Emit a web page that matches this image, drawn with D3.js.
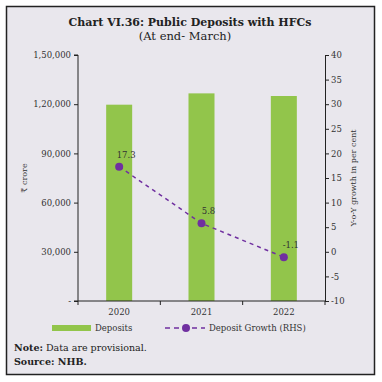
<!DOCTYPE html>
<html><head><meta charset="utf-8">
<script src="https://cdn.jsdelivr.net/npm/d3@7"></script>
<style>body{margin:0;background:#fff}svg{display:block}</style>
</head><body>
<script>
const categories = ["2020", "2021", "2022"];
const deposits = [119700, 126600, 125000];
const growth = [17.3, 5.8, -1.1];
const leftTicks = [0, 30000, 60000, 90000, 120000, 150000];
const leftTickLabels = ["-", "30,000", "60,000", "90,000", "1,20,000", "1,50,000"];
const rightTicks = [-10, -5, 0, 5, 10, 15, 20, 25, 30, 35, 40];

const W = 382, H = 382;
const font = "'DejaVu Serif', serif";
const svg = d3.select("body").append("svg").attr("width", W).attr("height", H);

svg.append("rect").attr("x", 6.5).attr("y", 6.5).attr("width", 368).attr("height", 368)
  .attr("fill", "#e9e7ed").attr("stroke", "#222").attr("stroke-width", 1.5);

svg.append("text").attr("x", 190).attr("y", 26).attr("text-anchor", "middle")
  .attr("font-family", font).attr("font-weight", "bold").attr("font-size", 11).attr("fill", "#222")
  .text("Chart VI.36: Public Deposits with HFCs");
svg.append("text").attr("x", 185).attr("y", 40).attr("text-anchor", "middle")
  .attr("font-family", font).attr("font-size", 11.5).attr("fill", "#222")
  .text("(At end- March)");

const x0 = 78, x1 = 325, yTop = 55, yBot = 301;
const x = d3.scaleBand().domain(categories).range([x0, x1]);
const yL = d3.scaleLinear().domain([0, 150000]).range([yBot, yTop]);
const yR = d3.scaleLinear().domain([-10, 40]).range([yBot, yTop]);

const bw = 26;
svg.selectAll("rect.bar").data(deposits).enter().append("rect").attr("class", "bar")
  .attr("x", (d, i) => x(categories[i]) + x.bandwidth() / 2 - bw / 2)
  .attr("y", d => yL(d)).attr("width", bw).attr("height", d => yBot - yL(d))
  .attr("fill", "#92c54b");

// left axis
const gl = svg.append("g").attr("transform", `translate(${x0},0)`)
  .call(d3.axisLeft(yL).tickValues(leftTicks).tickFormat((d, i) => leftTickLabels[i]).tickSize(4).tickPadding(3));
gl.select(".domain").attr("d", `M-4,${yTop}H0V${yBot}H-4`);
// right axis
const gr = svg.append("g").attr("transform", `translate(${x1},0)`)
  .call(d3.axisRight(yR).tickValues(rightTicks).tickFormat(d => d).tickSize(4).tickPadding(2));
// bottom axis
const gb = svg.append("g").attr("transform", `translate(0,${yBot})`)
  .call(d3.axisBottom(x).tickSize(0).tickPadding(8));
gb.select(".domain").attr("d", `M${x0},0H${x1}`);
[x0, x0 + x.step(), x0 + 2 * x.step(), x1].forEach(t =>
  gb.append("line").attr("x1", t).attr("x2", t).attr("y1", 0).attr("y2", 4).attr("stroke", "#222"));

[gl, gr, gb].forEach(g => {
  g.selectAll("text").attr("font-family", font).attr("font-size", 8.5).attr("fill", "#333");
  g.selectAll("line, path").attr("stroke", "#222").attr("stroke-width", 1);
});

// axis titles
svg.append("text").attr("transform", "translate(27,178) rotate(-90)").attr("text-anchor", "middle")
  .attr("font-family", font).attr("font-size", 8).attr("fill", "#333").text("₹ crore");
svg.append("text").attr("transform", "translate(356,178) rotate(-90)").attr("text-anchor", "middle")
  .attr("font-family", font).attr("font-size", 8).attr("fill", "#333").text("Y-o-Y growth in per cent");

// line
const line = d3.line().x((d, i) => x(categories[i]) + x.bandwidth() / 2).y(d => yR(d));
svg.append("path").datum(growth).attr("d", line).attr("fill", "none")
  .attr("stroke", "#7030a0").attr("stroke-width", 1.5).attr("stroke-dasharray", "4,4");
svg.selectAll("circle.pt").data(growth).enter().append("circle").attr("class", "pt")
  .attr("cx", (d, i) => x(categories[i]) + x.bandwidth() / 2).attr("cy", d => yR(d)).attr("r", 4)
  .attr("fill", "#7030a0");
svg.selectAll("text.lbl").data(growth).enter().append("text").attr("class", "lbl")
  .attr("x", (d, i) => x(categories[i]) + x.bandwidth() / 2 + 7).attr("y", d => yR(d) - 9)
  .attr("text-anchor", "middle").attr("font-family", font).attr("font-size", 8.5).attr("fill", "#333")
  .text(d => d.toFixed(1));

// legend
svg.append("rect").attr("x", 52).attr("y", 325).attr("width", 39).attr("height", 6).attr("fill", "#92c54b");
svg.append("text").attr("x", 95).attr("y", 331).attr("font-family", font).attr("font-size", 8.5).attr("fill", "#333").text("Deposits");
svg.append("line").attr("x1", 165).attr("x2", 205).attr("y1", 328).attr("y2", 328)
  .attr("stroke", "#7030a0").attr("stroke-width", 1.5).attr("stroke-dasharray", "5,4");
svg.append("circle").attr("cx", 186).attr("cy", 328).attr("r", 4).attr("fill", "#7030a0");
svg.append("text").attr("x", 209).attr("y", 331).attr("font-family", font).attr("font-size", 8.5).attr("fill", "#333").text("Deposit Growth (RHS)");

const note = svg.append("text").attr("x", 14).attr("y", 351).attr("font-family", font).attr("font-size", 9.5).attr("fill", "#222");
note.append("tspan").attr("font-weight", "bold").text("Note:");
note.append("tspan").text(" Data are provisional.");
svg.append("text").attr("x", 14).attr("y", 365).attr("font-family", font).attr("font-size", 9.5).attr("font-weight", "bold").attr("fill", "#222")
  .text("Source: NHB.");
</script>
</body></html>
